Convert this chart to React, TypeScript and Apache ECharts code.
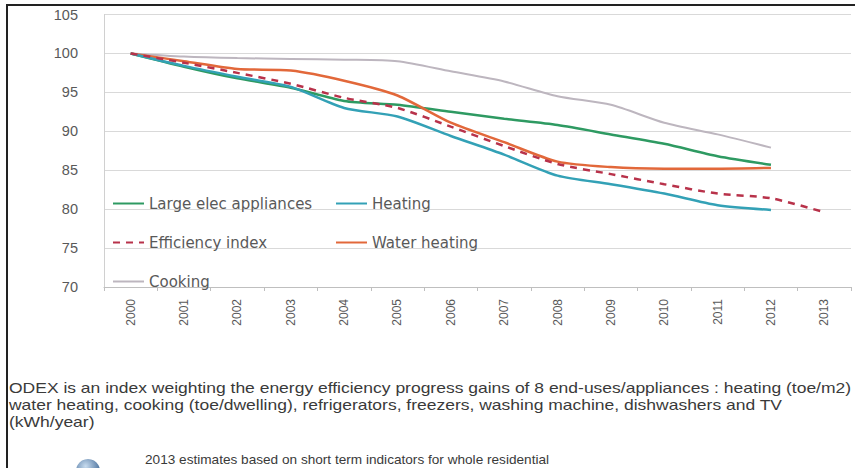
import React, { useEffect, useRef } from "react";
import * as echarts from "echarts";

const years = ["2000","2001","2002","2003","2004","2005","2006","2007","2008","2009","2010","2011","2012","2013"];
const largeElec = [100, 98.3, 96.8, 95.6, 93.9, 93.4, 92.5, 91.6, 90.8, 89.6, 88.4, 86.8, 85.7, null];
const heating = [100, 98.4, 97.0, 95.7, 93.0, 91.9, 89.4, 87.0, 84.3, 83.2, 82.0, 80.5, 79.9, null];
const efficiency = [100, 98.8, 97.5, 96.1, 94.3, 93.0, 90.6, 88.1, 85.8, 84.5, 83.2, 82.0, 81.4, 79.6];
const waterHeating = [100, 99.0, 98.0, 97.8, 96.5, 94.6, 91.1, 88.6, 86.1, 85.4, 85.2, 85.2, 85.3, null];
const cooking = [100, 99.6, 99.4, 99.3, 99.2, 99.0, 97.7, 96.4, 94.5, 93.4, 91.1, 89.6, 87.9, null];

const noteLines = [
  "ODEX is an index weighting the energy efficiency progress gains of 8 end-uses/appliances : heating (toe/m2)",
  "water heating, cooking (toe/dwelling), refrigerators, freezers, washing machine, dishwashers and TV",
  "(kWh/year)",
];
const footNote = "2013 estimates based on short term indicators for whole residential";

const FONT = "Liberation Sans, Arial, sans-serif";
const LEGEND_FONT = "DejaVu Sans, sans-serif";

export default function App() {
  const ref = useRef<HTMLDivElement>(null);
  useEffect(() => {
    document.body.style.margin = "0";
    const chart = echarts.init(ref.current!, null, { renderer: "svg" });
    const mk = (name: string, data: (number | null)[], color: string, width: number, dashed = false) => ({
      name,
      type: "line",
      data,
      yAxisIndex: 0,
      symbol: "none",
      smooth: 0.25,
      connectNulls: false,
      lineStyle: { color, width, type: dashed ? [7, 6] : "solid" },
      itemStyle: { color },
    });
    const legendBase = {
      orient: "vertical",
      top: 196,
      padding: 0,
      itemWidth: 31,
      itemHeight: 14,
      itemGap: 24,
      itemStyle: { opacity: 0 },
      textStyle: { color: "#595959", fontSize: 15, fontFamily: LEGEND_FONT },
    };
    chart.setOption({
      animation: false,
      backgroundColor: "#ffffff",
      textStyle: { fontFamily: FONT },
      grid: { left: 104, right: 4, top: 14.5, height: 272.5, containLabel: false },
      xAxis: {
        type: "category",
        data: years,
        boundaryGap: true,
        axisLine: { lineStyle: { color: "#bfbfbf", width: 1 } },
        axisTick: { show: true, length: 4, lineStyle: { color: "#bfbfbf" } },
        axisLabel: { rotate: 90, color: "#595959", fontSize: 12, margin: 12, fontFamily: FONT },
      },
      yAxis: [
        {
          type: "value",
          min: 70,
          max: 105,
          interval: 5,
          offset: 18,
          axisLine: { show: false },
          axisTick: { show: false },
          splitLine: { lineStyle: { color: "#d9d9d9", width: 1 } },
          axisLabel: { color: "#595959", fontSize: 14.5, margin: 8, fontFamily: FONT },
        },
        {
          type: "value",
          position: "left",
          min: 70,
          max: 105,
          interval: 5,
          offset: 0,
          axisLine: { show: true, lineStyle: { color: "#d0d0d0" } },
          axisTick: { show: false },
          splitLine: { show: false },
          axisLabel: { show: false },
        },
      ],
      legend: [
        { ...legendBase, left: 112, data: ["Large elec appliances", "Efficiency index", "Cooking"] },
        { ...legendBase, left: 335, data: ["Heating", "Water heating"] },
      ],
      series: [
        mk("Cooking", cooking, "#bdb6bf", 2),
        mk("Large elec appliances", largeElec, "#2e9a62", 2.5),
        mk("Water heating", waterHeating, "#e2683a", 2.5),
        mk("Heating", heating, "#33a1b6", 2.5),
        mk("Efficiency index", efficiency, "#b8324a", 2.5, true),
      ],
      graphic: [
        { type: "line", shape: { x1: 7, y1: 5, x2: 855, y2: 5 }, style: { stroke: "#222", lineWidth: 2 } },
        { type: "line", shape: { x1: 7, y1: 4, x2: 7, y2: 468 }, style: { stroke: "#222", lineWidth: 2 } },
        ...noteLines.map((t, i) => ({
          type: "text",
          x: 9,
          y: 381 + i * 17,
          scaleX: 1.25,
          style: { text: t, fill: "#3a3a3a", font: `14px ${FONT}` },
        })),
        {
          type: "circle",
          shape: { cx: 88, cy: 471, r: 12 },
          style: {
            fill: new echarts.graphic.RadialGradient(0.4, 0.3, 0.8, [
              { offset: 0, color: "#c8dcef" },
              { offset: 1, color: "#2a5688" },
            ]),
          },
        },
        {
          type: "text",
          x: 145,
          y: 453,
          scaleX: 1.09,
          style: { text: footNote, fill: "#3a3a3a", font: `12.5px ${FONT}` },
        },
      ],
    });
    return () => chart.dispose();
  }, []);
  return <div ref={ref} style={{ width: 855, height: 468 }} />;
}
